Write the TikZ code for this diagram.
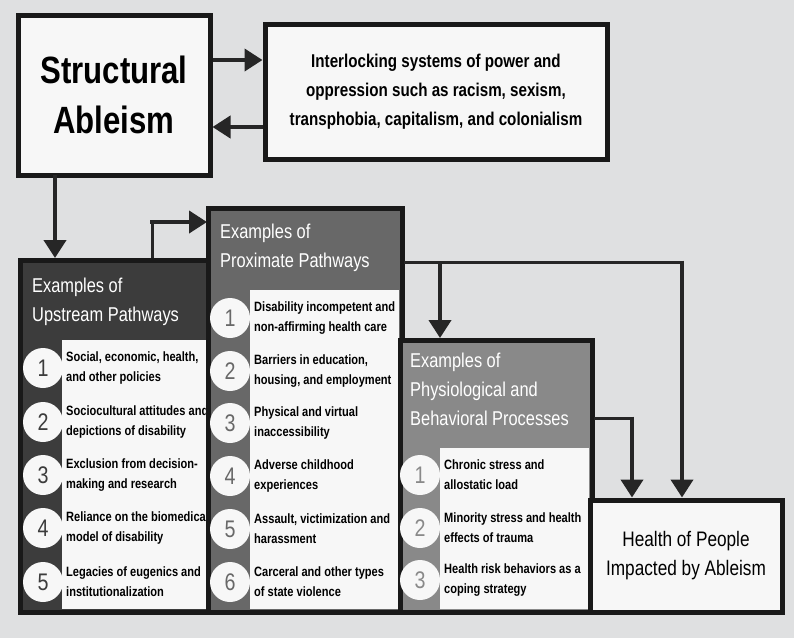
\documentclass[tikz,border=0pt]{standalone}
\usepackage{fontspec}
\setmainfont{Liberation Sans}[FakeStretch=0.82]
\usetikzlibrary{arrows.meta}
\definecolor{bg}{HTML}{DFE0E1}
\definecolor{upc}{HTML}{3C3C3C}
\definecolor{prc}{HTML}{686868}
\definecolor{phc}{HTML}{898989}
\definecolor{wh}{HTML}{F7F7F7}
\tikzset{
 box/.style={draw=black!90,line width=5pt},
 arr/.style={line width=4pt,draw=black!85,-{Triangle[length=18pt,width=22pt]}},
 ln/.style={line width=3pt,draw=black!85},
 hdr/.style={anchor=north west,text=white,font=\fontsize{20}{29}\selectfont,align=left,inner sep=0pt},
 item/.style={anchor=west,font=\bfseries\fontsize{13.5}{20}\selectfont,align=left,inner sep=0pt},
 num/.style={circle,fill=wh,minimum size=40pt,inner sep=0pt,font=\fontsize{24}{24}\selectfont}
}
\begin{document}
\begin{tikzpicture}[x=1pt,y=-1pt]
\useasboundingbox[fill=bg] (0,0) rectangle (794,638);
% top boxes
\node[box,fill=wh,minimum width=192pt,minimum height=160pt,font=\bfseries\fontsize{38}{50}\selectfont,align=center] (sa) at (114,95) {Structural\\Ableism};
\node[box,fill=wh,minimum width=342pt,minimum height=135pt,font=\bfseries\fontsize{18.5}{29}\selectfont,align=center] (il) at (436,92) {Interlocking systems of power and\\oppression such as racism, sexism,\\transphobia, capitalism, and colonialism};
\draw[arr] (sa.east|-0,60) -- (il.west|-0,60);
\draw[arr] (il.west|-0,127) -- (sa.east|-0,127);
% upstream
\fill[wh] (62,340) rectangle (210,610);
\draw[box,fill=upc] (20,260) rectangle (212,612);
\fill[wh] (62,340) rectangle (209,609);
\coordinate (up) at (55,258);
\node[hdr] (uph) at (32,278) {Examples of\\Upstream Pathways};
\foreach \y/\n/\t in {368/1/{Social, economic, health,\\and other policies},422/2/{Sociocultural attitudes and\\depictions of disability},475/3/{Exclusion from decision-\\making and research},528/4/{Reliance on the biomedical\\model of disability},582/5/{Legacies of eugenics and\\institutionalization}}{
 \node[num,text=upc] (u\n) at (43,\y) {\n};
 \node[item] (ut\n) at (66,\y) {\t};
}
% proximate
\draw[box,fill=prc] (208,208) rectangle (402,612);
\fill[wh] (250,290) rectangle (399,609);
\node[hdr] (prh) at (220,224) {Examples of\\Proximate Pathways};
\foreach \y/\n/\t in {318/1/{Disability incompetent and\\non-affirming health care},371/2/{Barriers in education,\\housing, and employment},423/3/{Physical and virtual\\inaccessibility},476/4/{Adverse childhood\\experiences},529/5/{Assault, victimization and\\harassment},582/6/{Carceral and other types\\of state violence}}{
 \node[num,text=prc] (p\n) at (230,\y) {\n};
 \node[item] (pt\n) at (254,\y) {\t};
}
% physiological
\draw[box,fill=phc] (400,340) rectangle (592,612);
\fill[wh] (440,448) rectangle (589,609);
\node[hdr] (phh) at (410,353) {Examples of\\Physiological and\\Behavioral Processes};
\foreach \y/\n/\t in {475/1/{Chronic stress and\\allostatic load},528/2/{Minority stress and health\\effects of trauma},580/3/{Health risk behaviors as a\\coping strategy}}{
 \node[num,text=phc] (h\n) at (420,\y) {\n};
 \node[item] (ht\n) at (444,\y) {\t};
}
% health
\node[box,fill=wh,minimum width=192pt,minimum height=112pt,font=\fontsize{21}{29}\selectfont,align=center] (hp) at (686,556) {Health of People\\Impacted by Ableism};
% connectors
\coordinate (saB) at (55,175);
\draw[arr] (saB) -- (up);
\coordinate (uT) at (152,258);
\draw[ln] (uT) -- (152,222) -- (190,222);
\draw[arr] (150,222) -- (207,222);
\draw[ln] (404,262) -- (682,262);
\draw[arr] (440,262) -- (440,338);
\draw[arr] (682,260.5) -- (hp.north-|682,0);
\draw[ln] (594,418) -- (632,418);
\draw[arr] (632,416.5) -- (hp.north-|632,0);
\end{tikzpicture}
\end{document}
